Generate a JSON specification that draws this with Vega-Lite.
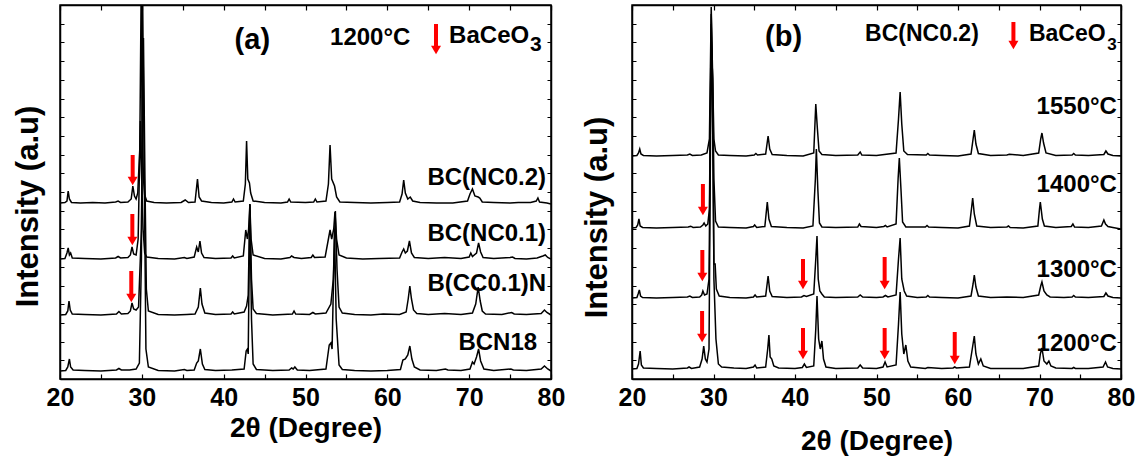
{
"$schema":"https://vega.github.io/schema/vega-lite/v6.json",
"background":"white",
"padding":{"left":11,"top":3,"right":5,"bottom":0},
"bounds":"flush",
"spacing":81,
"config":{
 "font":"Liberation Sans",
 "view":{"stroke":"black","strokeWidth":1.5},
 "axis":{"grid":false,"domainColor":"black","domainWidth":1.5,"tickColor":"black","tickWidth":1.2,"labelColor":"black","titleColor":"black","labelFont":"Liberation Sans","titleFont":"Liberation Sans","labelFontWeight":"bold","titleFontWeight":"bold"}
},
"datasets":{
"a_tr":[
{"s":"N2","x":20.0,"y":176},{"s":"N2","x":20.6,"y":176.5},{"s":"N2","x":20.85,"y":178},{"s":"N2","x":21.0,"y":188},{"s":"N2","x":21.15,"y":180},{"s":"N2","x":21.4,"y":176.5},{"s":"N2","x":22.5,"y":176},{"s":"N2","x":24,"y":176.5},{"s":"N2","x":25.5,"y":176},{"s":"N2","x":26.8,"y":177},{"s":"N2","x":27.1,"y":178},{"s":"N2","x":27.4,"y":176.5},{"s":"N2","x":28.3,"y":177},{"s":"N2","x":28.7,"y":180},{"s":"N2","x":28.9,"y":193},{"s":"N2","x":29.1,"y":183},{"s":"N2","x":29.3,"y":180},{"s":"N2","x":29.5,"y":186},{"s":"N2","x":29.75,"y":230},{"s":"N2","x":29.92,"y":390},{"s":"N2","x":30.05,"y":250},{"s":"N2","x":30.2,"y":200},{"s":"N2","x":30.35,"y":184},{"s":"N2","x":30.6,"y":178},{"s":"N2","x":31.5,"y":176.5},{"s":"N2","x":33,"y":176},{"s":"N2","x":34.8,"y":176.5},{"s":"N2","x":35.3,"y":179},{"s":"N2","x":35.7,"y":176.5},{"s":"N2","x":36.5,"y":177},{"s":"N2","x":36.8,"y":200},{"s":"N2","x":37.0,"y":182},{"s":"N2","x":37.3,"y":178},{"s":"N2","x":38.5,"y":176.5},{"s":"N2","x":40,"y":176},{"s":"N2","x":41.0,"y":177},{"s":"N2","x":41.2,"y":180},{"s":"N2","x":41.4,"y":177},{"s":"N2","x":42.4,"y":178},{"s":"N2","x":42.65,"y":195},{"s":"N2","x":42.8,"y":238},{"s":"N2","x":42.95,"y":200},{"s":"N2","x":43.15,"y":196},{"s":"N2","x":43.3,"y":186},{"s":"N2","x":43.6,"y":178},{"s":"N2","x":45,"y":176.5},{"s":"N2","x":47,"y":176},{"s":"N2","x":47.8,"y":177},{"s":"N2","x":48.0,"y":180},{"s":"N2","x":48.2,"y":177},{"s":"N2","x":50,"y":176.5},{"s":"N2","x":51.0,"y":177},{"s":"N2","x":51.2,"y":180},{"s":"N2","x":51.4,"y":177},{"s":"N2","x":52.5,"y":178},{"s":"N2","x":52.8,"y":195},{"s":"N2","x":53.0,"y":234},{"s":"N2","x":53.2,"y":200},{"s":"N2","x":53.55,"y":193},{"s":"N2","x":53.8,"y":182},{"s":"N2","x":54.2,"y":177},{"s":"N2","x":56,"y":176.5},{"s":"N2","x":58,"y":176},{"s":"N2","x":60,"y":176.5},{"s":"N2","x":61.5,"y":177},{"s":"N2","x":61.8,"y":185},{"s":"N2","x":62.0,"y":199},{"s":"N2","x":62.2,"y":186},{"s":"N2","x":62.5,"y":180},{"s":"N2","x":62.8,"y":182},{"s":"N2","x":63.1,"y":178},{"s":"N2","x":64,"y":176.5},{"s":"N2","x":66,"y":176},{"s":"N2","x":68,"y":176},{"s":"N2","x":69.8,"y":178},{"s":"N2","x":70.1,"y":185},{"s":"N2","x":70.4,"y":190},{"s":"N2","x":70.7,"y":183},{"s":"N2","x":71.1,"y":182},{"s":"N2","x":71.3,"y":181},{"s":"N2","x":71.6,"y":177},{"s":"N2","x":73,"y":176.5},{"s":"N2","x":75,"y":176},{"s":"N2","x":76,"y":176.5},{"s":"N2","x":77.5,"y":176.5},{"s":"N2","x":78.2,"y":178},{"s":"N2","x":78.4,"y":181},{"s":"N2","x":78.6,"y":177},{"s":"N2","x":79.5,"y":176},{"s":"N2","x":80,"y":175},
{"s":"N1","x":20,"y":120},{"s":"N1","x":20.6,"y":120.5},{"s":"N1","x":20.85,"y":126},{"s":"N1","x":21.0,"y":131},{"s":"N1","x":21.15,"y":124},{"s":"N1","x":21.3,"y":126},{"s":"N1","x":21.5,"y":121},{"s":"N1","x":23,"y":120.5},{"s":"N1","x":25,"y":120},{"s":"N1","x":26.8,"y":121},{"s":"N1","x":27.1,"y":122.5},{"s":"N1","x":27.4,"y":121},{"s":"N1","x":28.3,"y":121.5},{"s":"N1","x":28.6,"y":124},{"s":"N1","x":28.8,"y":132},{"s":"N1","x":29.0,"y":125},{"s":"N1","x":29.3,"y":124},{"s":"N1","x":29.55,"y":140},{"s":"N1","x":29.82,"y":258},{"s":"N1","x":29.98,"y":200},{"s":"N1","x":30.15,"y":150},{"s":"N1","x":30.35,"y":126},{"s":"N1","x":30.6,"y":122},{"s":"N1","x":32,"y":120.5},{"s":"N1","x":34,"y":120},{"s":"N1","x":35.2,"y":121.5},{"s":"N1","x":35.5,"y":120.5},{"s":"N1","x":36.4,"y":122},{"s":"N1","x":36.7,"y":132},{"s":"N1","x":36.9,"y":127},{"s":"N1","x":37.1,"y":138},{"s":"N1","x":37.3,"y":126},{"s":"N1","x":37.6,"y":121.5},{"s":"N1","x":39,"y":120.5},{"s":"N1","x":40.9,"y":121},{"s":"N1","x":41.1,"y":123},{"s":"N1","x":41.3,"y":121},{"s":"N1","x":42.4,"y":123},{"s":"N1","x":42.7,"y":149},{"s":"N1","x":42.9,"y":140},{"s":"N1","x":43.05,"y":150},{"s":"N1","x":43.2,"y":174},{"s":"N1","x":43.35,"y":140},{"s":"N1","x":43.6,"y":124},{"s":"N1","x":45,"y":120.5},{"s":"N1","x":47,"y":120},{"s":"N1","x":48.1,"y":121.5},{"s":"N1","x":48.3,"y":123},{"s":"N1","x":48.6,"y":121.5},{"s":"N1","x":49.5,"y":120.5},{"s":"N1","x":50.7,"y":121.5},{"s":"N1","x":50.9,"y":124},{"s":"N1","x":51.1,"y":121.5},{"s":"N1","x":52.4,"y":122},{"s":"N1","x":52.8,"y":140},{"s":"N1","x":53.0,"y":149},{"s":"N1","x":53.2,"y":140},{"s":"N1","x":53.45,"y":150},{"s":"N1","x":53.6,"y":167},{"s":"N1","x":53.8,"y":140},{"s":"N1","x":54.1,"y":124},{"s":"N1","x":55,"y":121},{"s":"N1","x":57,"y":120},{"s":"N1","x":59,"y":120.5},{"s":"N1","x":61.5,"y":121},{"s":"N1","x":61.8,"y":127},{"s":"N1","x":62.0,"y":130},{"s":"N1","x":62.2,"y":126},{"s":"N1","x":62.45,"y":128},{"s":"N1","x":62.7,"y":138},{"s":"N1","x":62.95,"y":126},{"s":"N1","x":63.3,"y":121.5},{"s":"N1","x":65,"y":120.5},{"s":"N1","x":67,"y":121.5},{"s":"N1","x":69,"y":120.5},{"s":"N1","x":70.0,"y":122},{"s":"N1","x":70.2,"y":126},{"s":"N1","x":70.4,"y":122.5},{"s":"N1","x":70.9,"y":126},{"s":"N1","x":71.15,"y":136},{"s":"N1","x":71.4,"y":127},{"s":"N1","x":71.7,"y":121.5},{"s":"N1","x":73,"y":120.5},{"s":"N1","x":75.0,"y":121.5},{"s":"N1","x":75.3,"y":122},{"s":"N1","x":75.6,"y":120.5},{"s":"N1","x":77,"y":120},{"s":"N1","x":78.3,"y":121},{"s":"N1","x":79.0,"y":123},{"s":"N1","x":79.3,"y":124},{"s":"N1","x":79.6,"y":121.5},{"s":"N1","x":80,"y":120},
{"s":"CC","x":20,"y":64},{"s":"CC","x":20.7,"y":64.5},{"s":"CC","x":20.95,"y":68},{"s":"CC","x":21.1,"y":78},{"s":"CC","x":21.25,"y":69},{"s":"CC","x":21.5,"y":65},{"s":"CC","x":23,"y":64.5},{"s":"CC","x":25,"y":64},{"s":"CC","x":26.9,"y":65},{"s":"CC","x":27.2,"y":67.5},{"s":"CC","x":27.5,"y":65},{"s":"CC","x":28.3,"y":65.5},{"s":"CC","x":28.6,"y":68},{"s":"CC","x":28.8,"y":76},{"s":"CC","x":29.0,"y":70},{"s":"CC","x":29.3,"y":69},{"s":"CC","x":29.6,"y":72},{"s":"CC","x":29.95,"y":150},{"s":"CC","x":30.2,"y":341},{"s":"CC","x":30.38,"y":200},{"s":"CC","x":30.55,"y":90},{"s":"CC","x":30.8,"y":68},{"s":"CC","x":32,"y":64.5},{"s":"CC","x":34,"y":64},{"s":"CC","x":35.5,"y":64.5},{"s":"CC","x":36.5,"y":65},{"s":"CC","x":36.9,"y":72},{"s":"CC","x":37.15,"y":91},{"s":"CC","x":37.35,"y":75},{"s":"CC","x":37.7,"y":66},{"s":"CC","x":39,"y":64.5},{"s":"CC","x":40.9,"y":65},{"s":"CC","x":41.1,"y":67},{"s":"CC","x":41.3,"y":65},{"s":"CC","x":42.5,"y":67},{"s":"CC","x":42.8,"y":73},{"s":"CC","x":43.0,"y":84},{"s":"CC","x":43.2,"y":175},{"s":"CC","x":43.4,"y":100},{"s":"CC","x":43.6,"y":70},{"s":"CC","x":44,"y":65.5},{"s":"CC","x":46,"y":64},{"s":"CC","x":48.4,"y":65},{"s":"CC","x":48.6,"y":68},{"s":"CC","x":48.8,"y":65},{"s":"CC","x":50.5,"y":64.5},{"s":"CC","x":50.9,"y":66.5},{"s":"CC","x":51.2,"y":65},{"s":"CC","x":52.5,"y":66},{"s":"CC","x":53.1,"y":75},{"s":"CC","x":53.4,"y":100},{"s":"CC","x":53.65,"y":168},{"s":"CC","x":53.85,"y":110},{"s":"CC","x":54.1,"y":72},{"s":"CC","x":54.5,"y":66},{"s":"CC","x":56,"y":64.5},{"s":"CC","x":58,"y":64},{"s":"CC","x":59.5,"y":65},{"s":"CC","x":61.5,"y":64.5},{"s":"CC","x":62.3,"y":67},{"s":"CC","x":62.55,"y":80},{"s":"CC","x":62.75,"y":93},{"s":"CC","x":62.95,"y":80},{"s":"CC","x":63.2,"y":69},{"s":"CC","x":63.6,"y":65.5},{"s":"CC","x":65,"y":64.5},{"s":"CC","x":67,"y":65.5},{"s":"CC","x":69,"y":64.5},{"s":"CC","x":70.4,"y":66},{"s":"CC","x":70.8,"y":75},{"s":"CC","x":71.1,"y":92},{"s":"CC","x":71.35,"y":78},{"s":"CC","x":71.6,"y":68},{"s":"CC","x":72,"y":65},{"s":"CC","x":74,"y":64.5},{"s":"CC","x":75.2,"y":66.5},{"s":"CC","x":75.5,"y":65},{"s":"CC","x":77,"y":64.5},{"s":"CC","x":78.8,"y":65.5},{"s":"CC","x":79.2,"y":69},{"s":"CC","x":79.5,"y":66.5},{"s":"CC","x":80,"y":64},
{"s":"B18","x":20,"y":8},{"s":"B18","x":20.7,"y":8.5},{"s":"B18","x":20.95,"y":12},{"s":"B18","x":21.15,"y":20},{"s":"B18","x":21.3,"y":12},{"s":"B18","x":21.6,"y":9},{"s":"B18","x":23,"y":8.5},{"s":"B18","x":25,"y":8},{"s":"B18","x":26.9,"y":9},{"s":"B18","x":27.2,"y":10.5},{"s":"B18","x":27.5,"y":9},{"s":"B18","x":28.5,"y":9},{"s":"B18","x":29.3,"y":10},{"s":"B18","x":29.7,"y":16},{"s":"B18","x":29.95,"y":120},{"s":"B18","x":30.1,"y":380},{"s":"B18","x":30.3,"y":200},{"s":"B18","x":30.5,"y":30},{"s":"B18","x":30.8,"y":12},{"s":"B18","x":32,"y":8.5},{"s":"B18","x":34,"y":8},{"s":"B18","x":35.2,"y":9.5},{"s":"B18","x":35.5,"y":8.5},{"s":"B18","x":36.4,"y":9},{"s":"B18","x":36.7,"y":16},{"s":"B18","x":36.9,"y":18},{"s":"B18","x":37.15,"y":30},{"s":"B18","x":37.4,"y":15},{"s":"B18","x":37.7,"y":9.5},{"s":"B18","x":39,"y":8.5},{"s":"B18","x":41,"y":9},{"s":"B18","x":42.5,"y":10},{"s":"B18","x":42.75,"y":28},{"s":"B18","x":42.9,"y":30},{"s":"B18","x":43.0,"y":25},{"s":"B18","x":43.2,"y":175},{"s":"B18","x":43.4,"y":60},{"s":"B18","x":43.6,"y":15},{"s":"B18","x":44,"y":9.5},{"s":"B18","x":46,"y":8.5},{"s":"B18","x":48.0,"y":9},{"s":"B18","x":48.3,"y":11},{"s":"B18","x":48.5,"y":10},{"s":"B18","x":48.7,"y":12},{"s":"B18","x":49.0,"y":9},{"s":"B18","x":50.5,"y":8.5},{"s":"B18","x":52.5,"y":10},{"s":"B18","x":52.9,"y":34},{"s":"B18","x":53.1,"y":36},{"s":"B18","x":53.25,"y":30},{"s":"B18","x":53.55,"y":150},{"s":"B18","x":53.75,"y":60},{"s":"B18","x":54.1,"y":14},{"s":"B18","x":54.5,"y":9.5},{"s":"B18","x":56,"y":8.5},{"s":"B18","x":58,"y":8},{"s":"B18","x":60,"y":8.5},{"s":"B18","x":61.6,"y":9.5},{"s":"B18","x":61.9,"y":19},{"s":"B18","x":62.2,"y":20},{"s":"B18","x":62.5,"y":24},{"s":"B18","x":62.75,"y":33},{"s":"B18","x":63.0,"y":20},{"s":"B18","x":63.3,"y":12},{"s":"B18","x":64,"y":9},{"s":"B18","x":66,"y":8.5},{"s":"B18","x":67.1,"y":10},{"s":"B18","x":67.4,"y":9},{"s":"B18","x":69,"y":8.5},{"s":"B18","x":70.1,"y":10},{"s":"B18","x":70.4,"y":17},{"s":"B18","x":70.6,"y":15},{"s":"B18","x":70.9,"y":22},{"s":"B18","x":71.15,"y":30},{"s":"B18","x":71.4,"y":18},{"s":"B18","x":71.8,"y":10},{"s":"B18","x":73,"y":8.5},{"s":"B18","x":75.1,"y":10},{"s":"B18","x":75.4,"y":9},{"s":"B18","x":77,"y":8.5},{"s":"B18","x":78.8,"y":10},{"s":"B18","x":79.2,"y":13},{"s":"B18","x":79.6,"y":10},{"s":"B18","x":80,"y":8}
],
"b_tr":[
{"s":"T1550","x":20,"y":223},{"s":"T1550","x":20.6,"y":223.5},{"s":"T1550","x":20.8,"y":226},{"s":"T1550","x":20.95,"y":230},{"s":"T1550","x":21.1,"y":225},{"s":"T1550","x":21.4,"y":223.5},{"s":"T1550","x":23,"y":223},{"s":"T1550","x":25,"y":223.5},{"s":"T1550","x":26.8,"y":224},{"s":"T1550","x":27.1,"y":225},{"s":"T1550","x":27.4,"y":223.5},{"s":"T1550","x":28.5,"y":224},{"s":"T1550","x":29.2,"y":226},{"s":"T1550","x":29.5,"y":240},{"s":"T1550","x":29.72,"y":372},{"s":"T1550","x":29.9,"y":300},{"s":"T1550","x":30.05,"y":240},{"s":"T1550","x":30.25,"y":228},{"s":"T1550","x":30.6,"y":224},{"s":"T1550","x":32,"y":223.5},{"s":"T1550","x":34,"y":223},{"s":"T1550","x":35.0,"y":224},{"s":"T1550","x":35.2,"y":225.5},{"s":"T1550","x":35.4,"y":224},{"s":"T1550","x":36.4,"y":225},{"s":"T1550","x":36.7,"y":243},{"s":"T1550","x":36.9,"y":230},{"s":"T1550","x":37.2,"y":224.5},{"s":"T1550","x":39,"y":223.5},{"s":"T1550","x":41,"y":223},{"s":"T1550","x":42.3,"y":226},{"s":"T1550","x":42.55,"y":275},{"s":"T1550","x":42.75,"y":250},{"s":"T1550","x":42.95,"y":228},{"s":"T1550","x":43.3,"y":224.5},{"s":"T1550","x":45,"y":223.5},{"s":"T1550","x":47.7,"y":224},{"s":"T1550","x":48.0,"y":227},{"s":"T1550","x":48.2,"y":224},{"s":"T1550","x":50,"y":223.5},{"s":"T1550","x":52.4,"y":226},{"s":"T1550","x":52.7,"y":260},{"s":"T1550","x":52.9,"y":287},{"s":"T1550","x":53.1,"y":255},{"s":"T1550","x":53.35,"y":228},{"s":"T1550","x":53.8,"y":224.5},{"s":"T1550","x":56.1,"y":224},{"s":"T1550","x":56.3,"y":225.5},{"s":"T1550","x":56.5,"y":224},{"s":"T1550","x":58,"y":223.5},{"s":"T1550","x":60,"y":223},{"s":"T1550","x":61.6,"y":225},{"s":"T1550","x":61.85,"y":240},{"s":"T1550","x":62.0,"y":249},{"s":"T1550","x":62.2,"y":235},{"s":"T1550","x":62.5,"y":225.5},{"s":"T1550","x":64,"y":223.5},{"s":"T1550","x":66,"y":224},{"s":"T1550","x":66.3,"y":224.8},{"s":"T1550","x":68,"y":223.5},{"s":"T1550","x":69.9,"y":226},{"s":"T1550","x":70.15,"y":240},{"s":"T1550","x":70.3,"y":246},{"s":"T1550","x":70.5,"y":236},{"s":"T1550","x":70.8,"y":226},{"s":"T1550","x":72,"y":223.5},{"s":"T1550","x":74.0,"y":224},{"s":"T1550","x":74.2,"y":225.5},{"s":"T1550","x":74.4,"y":224},{"s":"T1550","x":76,"y":223.5},{"s":"T1550","x":77.9,"y":224.5},{"s":"T1550","x":78.15,"y":228},{"s":"T1550","x":78.4,"y":225},{"s":"T1550","x":79,"y":223.5},{"s":"T1550","x":80,"y":223},
{"s":"T1400","x":20,"y":151},{"s":"T1400","x":20.5,"y":151.5},{"s":"T1400","x":20.7,"y":154},{"s":"T1400","x":20.85,"y":160},{"s":"T1400","x":21.0,"y":153},{"s":"T1400","x":21.3,"y":151.5},{"s":"T1400","x":23,"y":151},{"s":"T1400","x":25,"y":151.5},{"s":"T1400","x":26.9,"y":152},{"s":"T1400","x":27.2,"y":152.8},{"s":"T1400","x":27.5,"y":151.5},{"s":"T1400","x":28.4,"y":152},{"s":"T1400","x":28.7,"y":154},{"s":"T1400","x":28.85,"y":156},{"s":"T1400","x":29.05,"y":153},{"s":"T1400","x":29.3,"y":155},{"s":"T1400","x":29.5,"y":170},{"s":"T1400","x":29.72,"y":365},{"s":"T1400","x":29.9,"y":290},{"s":"T1400","x":30.05,"y":200},{"s":"T1400","x":30.25,"y":158},{"s":"T1400","x":30.6,"y":152},{"s":"T1400","x":32,"y":151.5},{"s":"T1400","x":34,"y":151},{"s":"T1400","x":34.9,"y":152.5},{"s":"T1400","x":35.05,"y":154},{"s":"T1400","x":35.3,"y":151.5},{"s":"T1400","x":36.3,"y":152.5},{"s":"T1400","x":36.6,"y":177},{"s":"T1400","x":36.8,"y":160},{"s":"T1400","x":37.1,"y":152.5},{"s":"T1400","x":39,"y":151.5},{"s":"T1400","x":41,"y":151},{"s":"T1400","x":42.2,"y":153},{"s":"T1400","x":42.5,"y":200},{"s":"T1400","x":42.62,"y":230},{"s":"T1400","x":42.8,"y":190},{"s":"T1400","x":43.0,"y":156},{"s":"T1400","x":43.3,"y":152},{"s":"T1400","x":45,"y":151.5},{"s":"T1400","x":47.7,"y":152},{"s":"T1400","x":47.9,"y":155},{"s":"T1400","x":48.1,"y":152.5},{"s":"T1400","x":50,"y":151.5},{"s":"T1400","x":50.9,"y":152.5},{"s":"T1400","x":51.1,"y":153.5},{"s":"T1400","x":51.3,"y":152},{"s":"T1400","x":52.4,"y":155},{"s":"T1400","x":52.65,"y":200},{"s":"T1400","x":52.8,"y":221},{"s":"T1400","x":53.0,"y":190},{"s":"T1400","x":53.2,"y":157},{"s":"T1400","x":53.6,"y":152},{"s":"T1400","x":56.0,"y":152},{"s":"T1400","x":56.2,"y":153.5},{"s":"T1400","x":56.4,"y":152},{"s":"T1400","x":58,"y":151.5},{"s":"T1400","x":60,"y":151},{"s":"T1400","x":61.4,"y":153},{"s":"T1400","x":61.65,"y":170},{"s":"T1400","x":61.8,"y":181},{"s":"T1400","x":62.0,"y":165},{"s":"T1400","x":62.3,"y":153},{"s":"T1400","x":64,"y":151.5},{"s":"T1400","x":66.0,"y":152},{"s":"T1400","x":66.2,"y":153},{"s":"T1400","x":66.4,"y":151.5},{"s":"T1400","x":68,"y":151},{"s":"T1400","x":69.8,"y":153},{"s":"T1400","x":70.0,"y":170},{"s":"T1400","x":70.1,"y":177},{"s":"T1400","x":70.35,"y":160},{"s":"T1400","x":70.6,"y":153},{"s":"T1400","x":72,"y":151.5},{"s":"T1400","x":73.9,"y":152.5},{"s":"T1400","x":74.1,"y":155},{"s":"T1400","x":74.3,"y":152},{"s":"T1400","x":76,"y":151.5},{"s":"T1400","x":77.6,"y":153},{"s":"T1400","x":77.9,"y":159},{"s":"T1400","x":78.1,"y":155},{"s":"T1400","x":78.4,"y":152.5},{"s":"T1400","x":79,"y":151.5},{"s":"T1400","x":80,"y":150},
{"s":"T1300","x":20,"y":81},{"s":"T1300","x":20.6,"y":81.5},{"s":"T1300","x":20.75,"y":85},{"s":"T1300","x":20.9,"y":89},{"s":"T1300","x":21.05,"y":83},{"s":"T1300","x":21.3,"y":81.5},{"s":"T1300","x":23,"y":81},{"s":"T1300","x":25,"y":81.5},{"s":"T1300","x":26.8,"y":82},{"s":"T1300","x":27.1,"y":83},{"s":"T1300","x":27.4,"y":81.5},{"s":"T1300","x":28.3,"y":82},{"s":"T1300","x":28.55,"y":84},{"s":"T1300","x":28.7,"y":88},{"s":"T1300","x":28.9,"y":84},{"s":"T1300","x":29.2,"y":85},{"s":"T1300","x":29.45,"y":100},{"s":"T1300","x":29.72,"y":355},{"s":"T1300","x":29.9,"y":250},{"s":"T1300","x":30.05,"y":115},{"s":"T1300","x":30.2,"y":115},{"s":"T1300","x":30.35,"y":90},{"s":"T1300","x":30.7,"y":83},{"s":"T1300","x":32,"y":81.5},{"s":"T1300","x":34,"y":81},{"s":"T1300","x":34.9,"y":82},{"s":"T1300","x":35.1,"y":84},{"s":"T1300","x":35.3,"y":82},{"s":"T1300","x":36.4,"y":83},{"s":"T1300","x":36.7,"y":103},{"s":"T1300","x":36.9,"y":88},{"s":"T1300","x":37.2,"y":82.5},{"s":"T1300","x":39,"y":81.5},{"s":"T1300","x":40.8,"y":82},{"s":"T1300","x":41.1,"y":83.5},{"s":"T1300","x":41.4,"y":82.5},{"s":"T1300","x":42.3,"y":85},{"s":"T1300","x":42.55,"y":120},{"s":"T1300","x":42.7,"y":143},{"s":"T1300","x":42.85,"y":100},{"s":"T1300","x":43.05,"y":88},{"s":"T1300","x":43.3,"y":85},{"s":"T1300","x":43.6,"y":82},{"s":"T1300","x":45,"y":81.5},{"s":"T1300","x":47.7,"y":82},{"s":"T1300","x":48.0,"y":84},{"s":"T1300","x":48.3,"y":82},{"s":"T1300","x":50,"y":81.5},{"s":"T1300","x":50.8,"y":82},{"s":"T1300","x":51.1,"y":83.5},{"s":"T1300","x":51.4,"y":82},{"s":"T1300","x":52.4,"y":84},{"s":"T1300","x":52.7,"y":120},{"s":"T1300","x":52.9,"y":141},{"s":"T1300","x":53.1,"y":100},{"s":"T1300","x":53.4,"y":88},{"s":"T1300","x":53.7,"y":83},{"s":"T1300","x":55,"y":81.5},{"s":"T1300","x":56.1,"y":82},{"s":"T1300","x":56.3,"y":83.5},{"s":"T1300","x":56.5,"y":82},{"s":"T1300","x":58,"y":81.5},{"s":"T1300","x":60,"y":81},{"s":"T1300","x":61.6,"y":83},{"s":"T1300","x":61.85,"y":95},{"s":"T1300","x":62.0,"y":104},{"s":"T1300","x":62.2,"y":92},{"s":"T1300","x":62.5,"y":83},{"s":"T1300","x":64,"y":81.5},{"s":"T1300","x":66,"y":82},{"s":"T1300","x":68,"y":81.5},{"s":"T1300","x":69.9,"y":84},{"s":"T1300","x":70.15,"y":93},{"s":"T1300","x":70.3,"y":97},{"s":"T1300","x":70.55,"y":88},{"s":"T1300","x":70.9,"y":84},{"s":"T1300","x":71.3,"y":82},{"s":"T1300","x":73,"y":81.5},{"s":"T1300","x":74.0,"y":82},{"s":"T1300","x":74.2,"y":83.5},{"s":"T1300","x":74.4,"y":82},{"s":"T1300","x":76,"y":81.5},{"s":"T1300","x":77.9,"y":82.5},{"s":"T1300","x":78.15,"y":86},{"s":"T1300","x":78.4,"y":83},{"s":"T1300","x":79,"y":81.5},{"s":"T1300","x":80,"y":81},
{"s":"T1200","x":20,"y":10},{"s":"T1200","x":20.6,"y":10.5},{"s":"T1200","x":20.8,"y":15},{"s":"T1200","x":21.0,"y":28},{"s":"T1200","x":21.15,"y":14},{"s":"T1200","x":21.4,"y":11},{"s":"T1200","x":23,"y":10.5},{"s":"T1200","x":25,"y":10},{"s":"T1200","x":26.8,"y":11},{"s":"T1200","x":27.0,"y":12},{"s":"T1200","x":27.3,"y":10.5},{"s":"T1200","x":28.3,"y":12},{"s":"T1200","x":28.6,"y":20},{"s":"T1200","x":28.8,"y":33},{"s":"T1200","x":29.0,"y":20},{"s":"T1200","x":29.2,"y":17},{"s":"T1200","x":29.45,"y":30},{"s":"T1200","x":29.72,"y":340},{"s":"T1200","x":29.9,"y":300},{"s":"T1200","x":30.05,"y":100},{"s":"T1200","x":30.3,"y":40},{"s":"T1200","x":30.6,"y":15},{"s":"T1200","x":31,"y":12},{"s":"T1200","x":32.5,"y":11},{"s":"T1200","x":34,"y":10.5},{"s":"T1200","x":34.9,"y":12},{"s":"T1200","x":35.1,"y":14},{"s":"T1200","x":35.3,"y":11},{"s":"T1200","x":36.4,"y":12},{"s":"T1200","x":36.65,"y":30},{"s":"T1200","x":36.8,"y":44},{"s":"T1200","x":36.95,"y":22},{"s":"T1200","x":37.15,"y":20},{"s":"T1200","x":37.4,"y":13},{"s":"T1200","x":38,"y":11},{"s":"T1200","x":40,"y":10.5},{"s":"T1200","x":40.9,"y":11.5},{"s":"T1200","x":41.15,"y":15},{"s":"T1200","x":41.4,"y":11.5},{"s":"T1200","x":42.3,"y":13},{"s":"T1200","x":42.55,"y":50},{"s":"T1200","x":42.7,"y":83},{"s":"T1200","x":42.9,"y":40},{"s":"T1200","x":43.1,"y":30},{"s":"T1200","x":43.3,"y":38},{"s":"T1200","x":43.5,"y":20},{"s":"T1200","x":43.8,"y":12},{"s":"T1200","x":45,"y":10.5},{"s":"T1200","x":47.7,"y":11},{"s":"T1200","x":48.0,"y":14},{"s":"T1200","x":48.3,"y":11},{"s":"T1200","x":50,"y":10.5},{"s":"T1200","x":50.8,"y":12},{"s":"T1200","x":51.05,"y":17},{"s":"T1200","x":51.3,"y":12},{"s":"T1200","x":52.4,"y":14},{"s":"T1200","x":52.7,"y":55},{"s":"T1200","x":52.9,"y":87},{"s":"T1200","x":53.1,"y":45},{"s":"T1200","x":53.35,"y":25},{"s":"T1200","x":53.6,"y":34},{"s":"T1200","x":53.85,"y":18},{"s":"T1200","x":54.2,"y":12},{"s":"T1200","x":56,"y":10.5},{"s":"T1200","x":56.3,"y":11.5},{"s":"T1200","x":58,"y":10.5},{"s":"T1200","x":59.4,"y":11},{"s":"T1200","x":59.6,"y":12},{"s":"T1200","x":59.8,"y":11},{"s":"T1200","x":61.4,"y":12},{"s":"T1200","x":61.75,"y":30},{"s":"T1200","x":62.0,"y":43},{"s":"T1200","x":62.2,"y":25},{"s":"T1200","x":62.5,"y":15},{"s":"T1200","x":62.8,"y":20},{"s":"T1200","x":63.1,"y":13},{"s":"T1200","x":64,"y":10.5},{"s":"T1200","x":66,"y":10.5},{"s":"T1200","x":68,"y":10.5},{"s":"T1200","x":69.9,"y":13},{"s":"T1200","x":70.1,"y":25},{"s":"T1200","x":70.3,"y":31},{"s":"T1200","x":70.55,"y":18},{"s":"T1200","x":70.9,"y":15},{"s":"T1200","x":71.15,"y":18},{"s":"T1200","x":71.4,"y":13},{"s":"T1200","x":72,"y":11},{"s":"T1200","x":74,"y":10.5},{"s":"T1200","x":74.2,"y":11.5},{"s":"T1200","x":74.4,"y":10.5},{"s":"T1200","x":76,"y":10.5},{"s":"T1200","x":77.8,"y":12},{"s":"T1200","x":78.1,"y":17},{"s":"T1200","x":78.35,"y":12},{"s":"T1200","x":79,"y":10.5},{"s":"T1200","x":80,"y":10}
],
"a_ar":[{"x":28.88,"y1":224,"y2":194},{"x":28.84,"y1":165,"y2":134},{"x":28.71,"y1":108,"y2":77},{"x":65.95,"y1":355,"y2":325}],
"b_ar":[{"x":28.7,"y1":195,"y2":164},{"x":28.63,"y1":129,"y2":98},{"x":40.98,"y1":120,"y2":90},{"x":51.0,"y1":122,"y2":90},{"x":28.6,"y1":68,"y2":37},{"x":40.98,"y1":51,"y2":20},{"x":51.0,"y1":51,"y2":20},{"x":59.6,"y1":47,"y2":15},{"x":66.8,"y1":357,"y2":330}],
"a_tx":[
{"g":"name","x":79.4,"y":201,"t":"BC(NC0.2)"},{"g":"name","x":79.4,"y":145,"t":"BC(NC0.1)"},{"g":"name","x":79.4,"y":95,"t":"B(CC0.1)N"},{"g":"name","x":78.3,"y":36,"t":"BCN18"},
{"g":"panel","x":43.5,"y":339,"t":"(a)"},
{"g":"head","x":53.0,"y":341,"t":"1200°C"},{"g":"head","x":67.55,"y":343,"t":"BaCeO"},
{"g":"sub","x":77.44,"y":334,"t":"3"}
],
"b_tx":[
{"g":"name","x":79.5,"y":272,"t":"1550°C"},{"g":"name","x":79.5,"y":194,"t":"1400°C"},{"g":"name","x":79.5,"y":109,"t":"1300°C"},{"g":"name","x":79.5,"y":35,"t":"1200°C"},
{"g":"panel","x":38.6,"y":342,"t":"(b)"},
{"g":"head","x":48.6,"y":345,"t":"BC(NC0.2)"},{"g":"head","x":68.7,"y":345,"t":"BaCeO"},
{"g":"sub","x":78.3,"y":334,"t":"3"}
]
},
"hconcat":[
{"width":491,"height":374,
 "layer":[
  {"data":{"name":"a_tr"},"mark":{"type":"line","color":"black","strokeWidth":1.5,"clip":true},
   "encoding":{
    "x":{"field":"x","type":"quantitative","scale":{"domain":[20,80],"nice":false,"zero":false},
         "axis":{"orient":"bottom","values":[20,25,30,35,40,45,50,55,60,65,70,75,80],"labelExpr":"datum.value % 10 == 0 ? datum.label : ''","tickSize":-5,"labelPadding":11,"labelFontSize":25,"labelFlush":false,"labelOverlap":false,"title":"2θ (Degree)","titleFontSize":28,"titlePadding":4}},
    "y":{"field":"y","type":"quantitative","scale":{"domain":[0,374],"nice":false,"zero":false},
         "axis":{"orient":"left","values":[0,18.7,37.4,56.1,74.8,93.5,112.2,130.9,149.6,168.3,187,205.7,224.4,243.1,261.8,280.5,299.2,317.9,336.6,355.3,374],"labels":false,"tickSize":-4,"tickWidth":1,"title":"Intensity (a.u)","titleFontSize":31,"titlePadding":15,"titleY":201}},
    "detail":{"field":"s"}}},
  {"data":{"name":"a_ar"},"mark":{"type":"rule","color":"#ff0000","strokeWidth":4,"y2Offset":-5},
   "encoding":{
    "x":{"field":"x","type":"quantitative","scale":{"domain":[20,80],"nice":false,"zero":false},
         "axis":{"orient":"top","values":[20,25,30,35,40,45,50,55,60,65,70,75,80],"labels":false,"tickSize":-5,"title":null}},
    "y":{"field":"y1","type":"quantitative","scale":{"domain":[0,374],"nice":false,"zero":false},
         "axis":{"orient":"right","values":[0,18.7,37.4,56.1,74.8,93.5,112.2,130.9,149.6,168.3,187,205.7,224.4,243.1,261.8,280.5,299.2,317.9,336.6,355.3,374],"labels":false,"tickSize":-4,"tickWidth":1,"title":null}},
    "y2":{"field":"y2"}}},
  {"data":{"name":"a_ar"},"mark":{"type":"point","shape":"triangle-down","filled":true,"color":"#ff0000","opacity":1,"size":100,"yOffset":-4},
   "encoding":{
    "x":{"field":"x","type":"quantitative","scale":{"domain":[20,80],"nice":false,"zero":false},"axis":null},
    "y":{"field":"y2","type":"quantitative","scale":{"domain":[0,374],"nice":false,"zero":false},"axis":null}}},
  {"data":{"name":"a_tx"},"transform":[{"filter":"datum.g == 'name'"}],"mark":{"type":"text","align":"right","baseline":"middle","fontSize":24,"fontWeight":"bold","color":"black"},
   "encoding":{
    "x":{"field":"x","type":"quantitative","scale":{"domain":[20,80],"nice":false,"zero":false},"axis":null},
    "y":{"field":"y","type":"quantitative","scale":{"domain":[0,374],"nice":false,"zero":false},"axis":null},
    "text":{"field":"t"}}},
  {"data":{"name":"a_tx"},"transform":[{"filter":"datum.g == 'panel'"}],"mark":{"type":"text","align":"center","baseline":"middle","fontSize":29,"fontWeight":"bold","color":"black"},
   "encoding":{
    "x":{"field":"x","type":"quantitative","scale":{"domain":[20,80],"nice":false,"zero":false},"axis":null},
    "y":{"field":"y","type":"quantitative","scale":{"domain":[0,374],"nice":false,"zero":false},"axis":null},
    "text":{"field":"t"}}},
  {"data":{"name":"a_tx"},"transform":[{"filter":"datum.g == 'head'"}],"mark":{"type":"text","align":"left","baseline":"middle","fontSize":24,"fontWeight":"bold","color":"black"},
   "encoding":{
    "x":{"field":"x","type":"quantitative","scale":{"domain":[20,80],"nice":false,"zero":false},"axis":null},
    "y":{"field":"y","type":"quantitative","scale":{"domain":[0,374],"nice":false,"zero":false},"axis":null},
    "text":{"field":"t"}}},
  {"data":{"name":"a_tx"},"transform":[{"filter":"datum.g == 'sub'"}],"mark":{"type":"text","align":"left","baseline":"middle","fontSize":21,"fontWeight":"bold","color":"black"},
   "encoding":{
    "x":{"field":"x","type":"quantitative","scale":{"domain":[20,80],"nice":false,"zero":false},"axis":null},
    "y":{"field":"y","type":"quantitative","scale":{"domain":[0,374],"nice":false,"zero":false},"axis":null},
    "text":{"field":"t"}}}
 ],
 "resolve":{"axis":{"x":"independent","y":"independent"}}
},
{"width":489,"height":374,
 "layer":[
  {"data":{"name":"b_tr"},"mark":{"type":"line","color":"black","strokeWidth":1.5,"clip":true},
   "encoding":{
    "x":{"field":"x","type":"quantitative","scale":{"domain":[20,80],"nice":false,"zero":false},
         "axis":{"orient":"bottom","values":[20,25,30,35,40,45,50,55,60,65,70,75,80],"labelExpr":"datum.value % 10 == 0 ? datum.label : ''","tickSize":-5,"labelPadding":11,"labelFontSize":25,"labelFlush":false,"labelOverlap":false,"title":"2θ (Degree)","titleFontSize":28,"titlePadding":17}},
    "y":{"field":"y","type":"quantitative","scale":{"domain":[0,374],"nice":false,"zero":false},
         "axis":{"orient":"left","values":[0,18.7,37.4,56.1,74.8,93.5,112.2,130.9,149.6,168.3,187,205.7,224.4,243.1,261.8,280.5,299.2,317.9,336.6,355.3,374],"labels":false,"tickSize":-4,"tickWidth":1,"title":"Intensity (a.u)","titleFontSize":31,"titlePadding":18,"titleY":212}},
    "detail":{"field":"s"}}},
  {"data":{"name":"b_ar"},"mark":{"type":"rule","color":"#ff0000","strokeWidth":4,"y2Offset":-5},
   "encoding":{
    "x":{"field":"x","type":"quantitative","scale":{"domain":[20,80],"nice":false,"zero":false},
         "axis":{"orient":"top","values":[20,25,30,35,40,45,50,55,60,65,70,75,80],"labels":false,"tickSize":-5,"title":null}},
    "y":{"field":"y1","type":"quantitative","scale":{"domain":[0,374],"nice":false,"zero":false},
         "axis":{"orient":"right","values":[0,18.7,37.4,56.1,74.8,93.5,112.2,130.9,149.6,168.3,187,205.7,224.4,243.1,261.8,280.5,299.2,317.9,336.6,355.3,374],"labels":false,"tickSize":-4,"tickWidth":1,"title":null}},
    "y2":{"field":"y2"}}},
  {"data":{"name":"b_ar"},"mark":{"type":"point","shape":"triangle-down","filled":true,"color":"#ff0000","opacity":1,"size":100,"yOffset":-4},
   "encoding":{
    "x":{"field":"x","type":"quantitative","scale":{"domain":[20,80],"nice":false,"zero":false},"axis":null},
    "y":{"field":"y2","type":"quantitative","scale":{"domain":[0,374],"nice":false,"zero":false},"axis":null}}},
  {"data":{"name":"b_tx"},"transform":[{"filter":"datum.g == 'name'"}],"mark":{"type":"text","align":"right","baseline":"middle","fontSize":24,"fontWeight":"bold","color":"black"},
   "encoding":{
    "x":{"field":"x","type":"quantitative","scale":{"domain":[20,80],"nice":false,"zero":false},"axis":null},
    "y":{"field":"y","type":"quantitative","scale":{"domain":[0,374],"nice":false,"zero":false},"axis":null},
    "text":{"field":"t"}}},
  {"data":{"name":"b_tx"},"transform":[{"filter":"datum.g == 'panel'"}],"mark":{"type":"text","align":"center","baseline":"middle","fontSize":29,"fontWeight":"bold","color":"black"},
   "encoding":{
    "x":{"field":"x","type":"quantitative","scale":{"domain":[20,80],"nice":false,"zero":false},"axis":null},
    "y":{"field":"y","type":"quantitative","scale":{"domain":[0,374],"nice":false,"zero":false},"axis":null},
    "text":{"field":"t"}}},
  {"data":{"name":"b_tx"},"transform":[{"filter":"datum.g == 'head'"}],"mark":{"type":"text","align":"left","baseline":"middle","fontSize":23,"fontWeight":"bold","color":"black"},
   "encoding":{
    "x":{"field":"x","type":"quantitative","scale":{"domain":[20,80],"nice":false,"zero":false},"axis":null},
    "y":{"field":"y","type":"quantitative","scale":{"domain":[0,374],"nice":false,"zero":false},"axis":null},
    "text":{"field":"t"}}},
  {"data":{"name":"b_tx"},"transform":[{"filter":"datum.g == 'sub'"}],"mark":{"type":"text","align":"left","baseline":"middle","fontSize":17,"fontWeight":"bold","color":"black"},
   "encoding":{
    "x":{"field":"x","type":"quantitative","scale":{"domain":[20,80],"nice":false,"zero":false},"axis":null},
    "y":{"field":"y","type":"quantitative","scale":{"domain":[0,374],"nice":false,"zero":false},"axis":null},
    "text":{"field":"t"}}}
 ],
 "resolve":{"axis":{"x":"independent","y":"independent"}}
}
]
}
